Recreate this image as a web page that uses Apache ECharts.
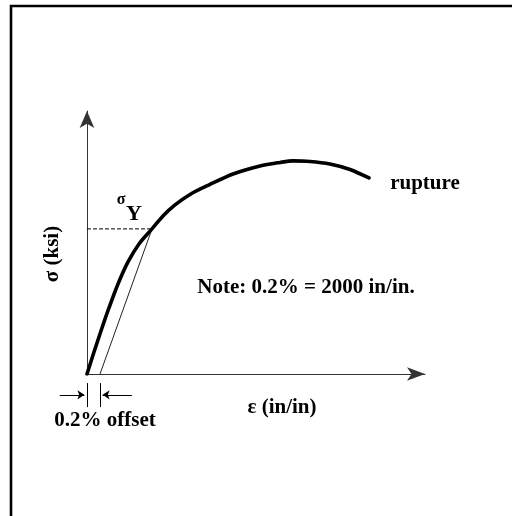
<!DOCTYPE html>
<html>
<head>
<meta charset="utf-8">
<script src="https://cdn.jsdelivr.net/npm/echarts@6/dist/echarts.min.js"></script>
<style>
html,body{margin:0;padding:0;background:#fff;}
#main{width:512px;height:516px;}
</style>
</head>
<body>
<div id="main"></div>
<script>
// stress-strain curve (strain in in/in, stress in ksi)
var strain=[0,0.00108,0.00215,0.00338,0.00477,0.00631,0.0080,0.0100,0.01169,0.01354,0.01585,0.01892,0.02246,0.02662,0.02969,0.03169,0.03431,0.03738,0.04046,0.04338];
var stress=[0,4.85,9.49,14.56,19.85,24.71,28.68,32.0,34.85,37.28,39.60,41.80,44.12,45.88,46.65,46.99,46.88,46.32,45.11,43.24];

// yield point and 0.2% offset
var offsetStrain=0.002;
var yieldStrain=0.01;
var yieldStress=32.0;

// axis ranges
var strainMax=0.052;
var stressMax=58;

// dimension marks below the axis for the offset
var tickTop=-2.0;
var tickBottom=-7.3;
var arrowLevel=-4.6;
var leftArrowFrom=-0.0042;
var leftArrowTo=-0.0004;
var rightArrowFrom=0.0069;
var rightArrowTo=0.0024;

var FONT='"Liberation Serif","Times New Roman",serif';

function pairs(xs,ys){
    var out=[];
    for(var i=0;i<xs.length;i++){out.push([xs[i],ys[i]]);}
    return out;
}

var myChart=echarts.init(document.getElementById('main'));
var option={
    backgroundColor:'#fff',
    animation:false,
    grid:{left:87,top:111,width:338,height:263},
    xAxis:{
        type:'value',min:0,max:strainMax,
        axisLine:{show:true,symbol:['none','arrow'],symbolSize:[10,18],lineStyle:{color:'#333',width:1}},
        axisTick:{show:false},axisLabel:{show:false},splitLine:{show:false}
    },
    yAxis:{
        type:'value',min:0,max:stressMax,
        axisLine:{show:true,symbol:['none','arrow'],symbolSize:[11,17],lineStyle:{color:'#333',width:1}},
        axisTick:{show:false},axisLabel:{show:false},splitLine:{show:false}
    },
    series:[
        {
            //0.2% offset line
            type:'line',symbol:'none',silent:true,
            data:[[offsetStrain,0],[yieldStrain,yieldStress]],
            lineStyle:{color:'#222',width:1},z:2
        },
        {
            //yield stress level
            type:'line',symbol:'none',silent:true,
            data:[[0,yieldStress],[yieldStrain,yieldStress]],
            lineStyle:{color:'#000',width:1,type:[4,2]},z:2
        },
        {
            type:'line',symbol:'none',smooth:0.3,silent:true,
            data:pairs(strain,stress),
            lineStyle:{color:'#000',width:3.6,cap:'round'},z:3
        },
        {
            //offset dimension ticks
            type:'lines',coordinateSystem:'cartesian2d',clip:false,silent:true,
            symbol:['none','none'],
            lineStyle:{color:'#000',width:1,opacity:1},
            data:[
                {coords:[[0,tickTop],[0,tickBottom]]},
                {coords:[[offsetStrain,tickTop],[offsetStrain,tickBottom]]}
            ]
        },
        {
            //offset dimension arrows
            type:'lines',coordinateSystem:'cartesian2d',clip:false,silent:true,
            symbol:['none','arrow'],symbolSize:[6,7],
            lineStyle:{color:'#000',width:1,opacity:1},
            data:[
                {coords:[[leftArrowFrom,arrowLevel],[leftArrowTo,arrowLevel]]},
                {coords:[[rightArrowFrom,arrowLevel],[rightArrowTo,arrowLevel]]}
            ]
        }
    ],
    graphic:[
        {type:'polyline',shape:{points:[[11,516],[11,6],[512,6]]},style:{stroke:'#000',lineWidth:2.6,fill:null}},
        {type:'text',x:425,y:184,style:{text:'rupture',fill:'#000',font:'bold 21px '+FONT,align:'center',verticalAlign:'middle'}},
        {type:'text',x:306,y:288,style:{text:'Note: 0.2% = 2000 in/in.',fill:'#000',font:'bold 21px '+FONT,align:'center',verticalAlign:'middle'}},
        {type:'text',x:282,y:408,style:{text:'ε (in/in)',fill:'#000',font:'bold 21px '+FONT,align:'center',verticalAlign:'middle'}},
        {type:'text',x:105,y:421,style:{text:'0.2% offset',fill:'#000',font:'bold 21px '+FONT,align:'center',verticalAlign:'middle'}},
        {type:'text',x:53,y:254,rotation:Math.PI/2,style:{text:'σ (ksi)',fill:'#000',font:'bold 21px '+FONT,align:'center',verticalAlign:'middle'}},
        {type:'text',x:121,y:200,style:{text:'σ',fill:'#000',font:'bold 16px '+FONT,align:'center',verticalAlign:'middle'}},
        {type:'text',x:134,y:214,style:{text:'Y',fill:'#000',font:'bold 22px '+FONT,align:'center',verticalAlign:'middle'}}
    ]
};
myChart.setOption(option);
</script>
</body>
</html>
